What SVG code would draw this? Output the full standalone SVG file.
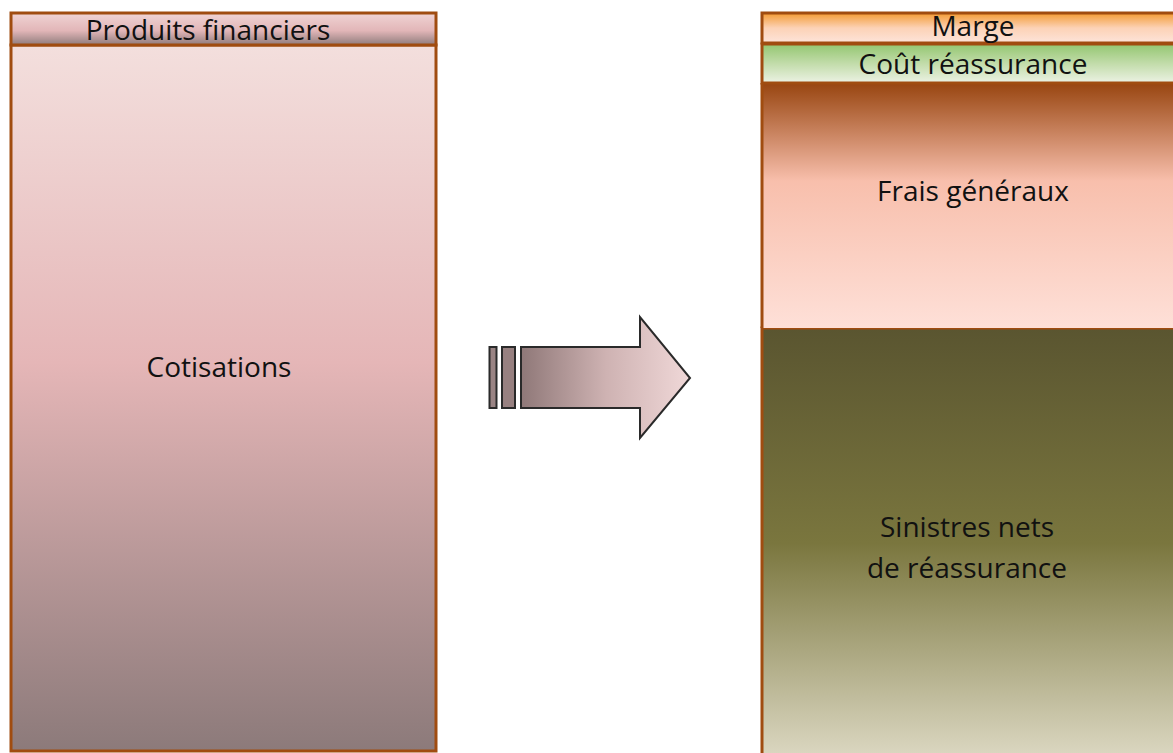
<svg xmlns="http://www.w3.org/2000/svg" width="1173" height="753" viewBox="0 0 1173 753">
<defs>
<linearGradient id="gPF" x1="0" y1="0" x2="0" y2="1"><stop offset="0" stop-color="#f0d4d4"/><stop offset="0.55" stop-color="#e2b6b8"/><stop offset="1" stop-color="#8f7c7c"/></linearGradient>
<linearGradient id="gCot" x1="0" y1="0" x2="0" y2="1"><stop offset="0" stop-color="#f3dfdd"/><stop offset="0.45" stop-color="#e5b6b7"/><stop offset="1" stop-color="#8c7a7a"/></linearGradient>
<linearGradient id="gMarge" x1="0" y1="0" x2="0" y2="1"><stop offset="0" stop-color="#f39a32"/><stop offset="0.5" stop-color="#fcd2b6"/><stop offset="1" stop-color="#fde4da"/></linearGradient>
<linearGradient id="gCout" x1="0" y1="0" x2="0" y2="1"><stop offset="0" stop-color="#93c670"/><stop offset="0.5" stop-color="#c2dcaa"/><stop offset="1" stop-color="#ecf2e4"/></linearGradient>
<linearGradient id="gFrais" x1="0" y1="0" x2="0" y2="1"><stop offset="0" stop-color="#984510"/><stop offset="0.4" stop-color="#f8bfac"/><stop offset="1" stop-color="#fee0d8"/></linearGradient>
<linearGradient id="gSin" x1="0" y1="0" x2="0" y2="1"><stop offset="0" stop-color="#5a5530"/><stop offset="0.5" stop-color="#7a763e"/><stop offset="1" stop-color="#dcd8c2"/></linearGradient>
<linearGradient id="gArrow" x1="0" y1="0" x2="1" y2="0"><stop offset="0" stop-color="#8f7878"/><stop offset="0.5" stop-color="#ceb2b2"/><stop offset="1" stop-color="#f0d8d8"/></linearGradient>
<style>
.box{stroke:#a04c10;stroke-width:3}
.lbl{font-family:"Open Sans","Noto Sans","Liberation Sans",sans-serif;font-size:28px;fill:#111;text-anchor:middle}
.arr{stroke:#2a2a2a;stroke-width:2}
</style>
</defs>
<rect width="1173" height="753" fill="#ffffff"/>
<g id="cotisations"><rect class="box" x="11" y="45" width="425" height="706" fill="url(#gCot)"/><text class="lbl" x="219" y="377">Cotisations</text></g>
<g id="produits-financiers"><rect class="box" x="11" y="13" width="425" height="32" fill="url(#gPF)"/><text class="lbl" x="208" y="40">Produits financiers</text></g>
<g id="sinistres"><rect class="box" x="762" y="328" width="420" height="430" fill="url(#gSin)"/><text class="lbl" x="967" y="537">Sinistres nets</text><text class="lbl" x="967" y="578">de réassurance</text></g>
<g id="frais"><rect x="762" y="83" width="420" height="245" fill="url(#gFrais)"/><line x1="762" y1="83" x2="762" y2="328" stroke="#a04c10" stroke-width="3"/><text class="lbl" x="973" y="201">Frais généraux</text></g>
<g id="cout"><rect class="box" x="762" y="44" width="420" height="39" fill="url(#gCout)"/><text class="lbl" x="973" y="74">Coût réassurance</text></g>
<g id="marge"><rect class="box" x="762" y="13" width="420" height="30" fill="url(#gMarge)"/><text class="lbl" x="973" y="36">Marge</text></g>
<g id="connectors">
<rect class="arr" x="489.5" y="347" width="7" height="61" fill="#9a8484"/>
<rect class="arr" x="502" y="347" width="13" height="61" fill="#978080"/>
<path class="arr" d="M521,347 H640 V317 L690,378 L640,438 V408 H521 Z" fill="url(#gArrow)"/>
</g>
</svg>
